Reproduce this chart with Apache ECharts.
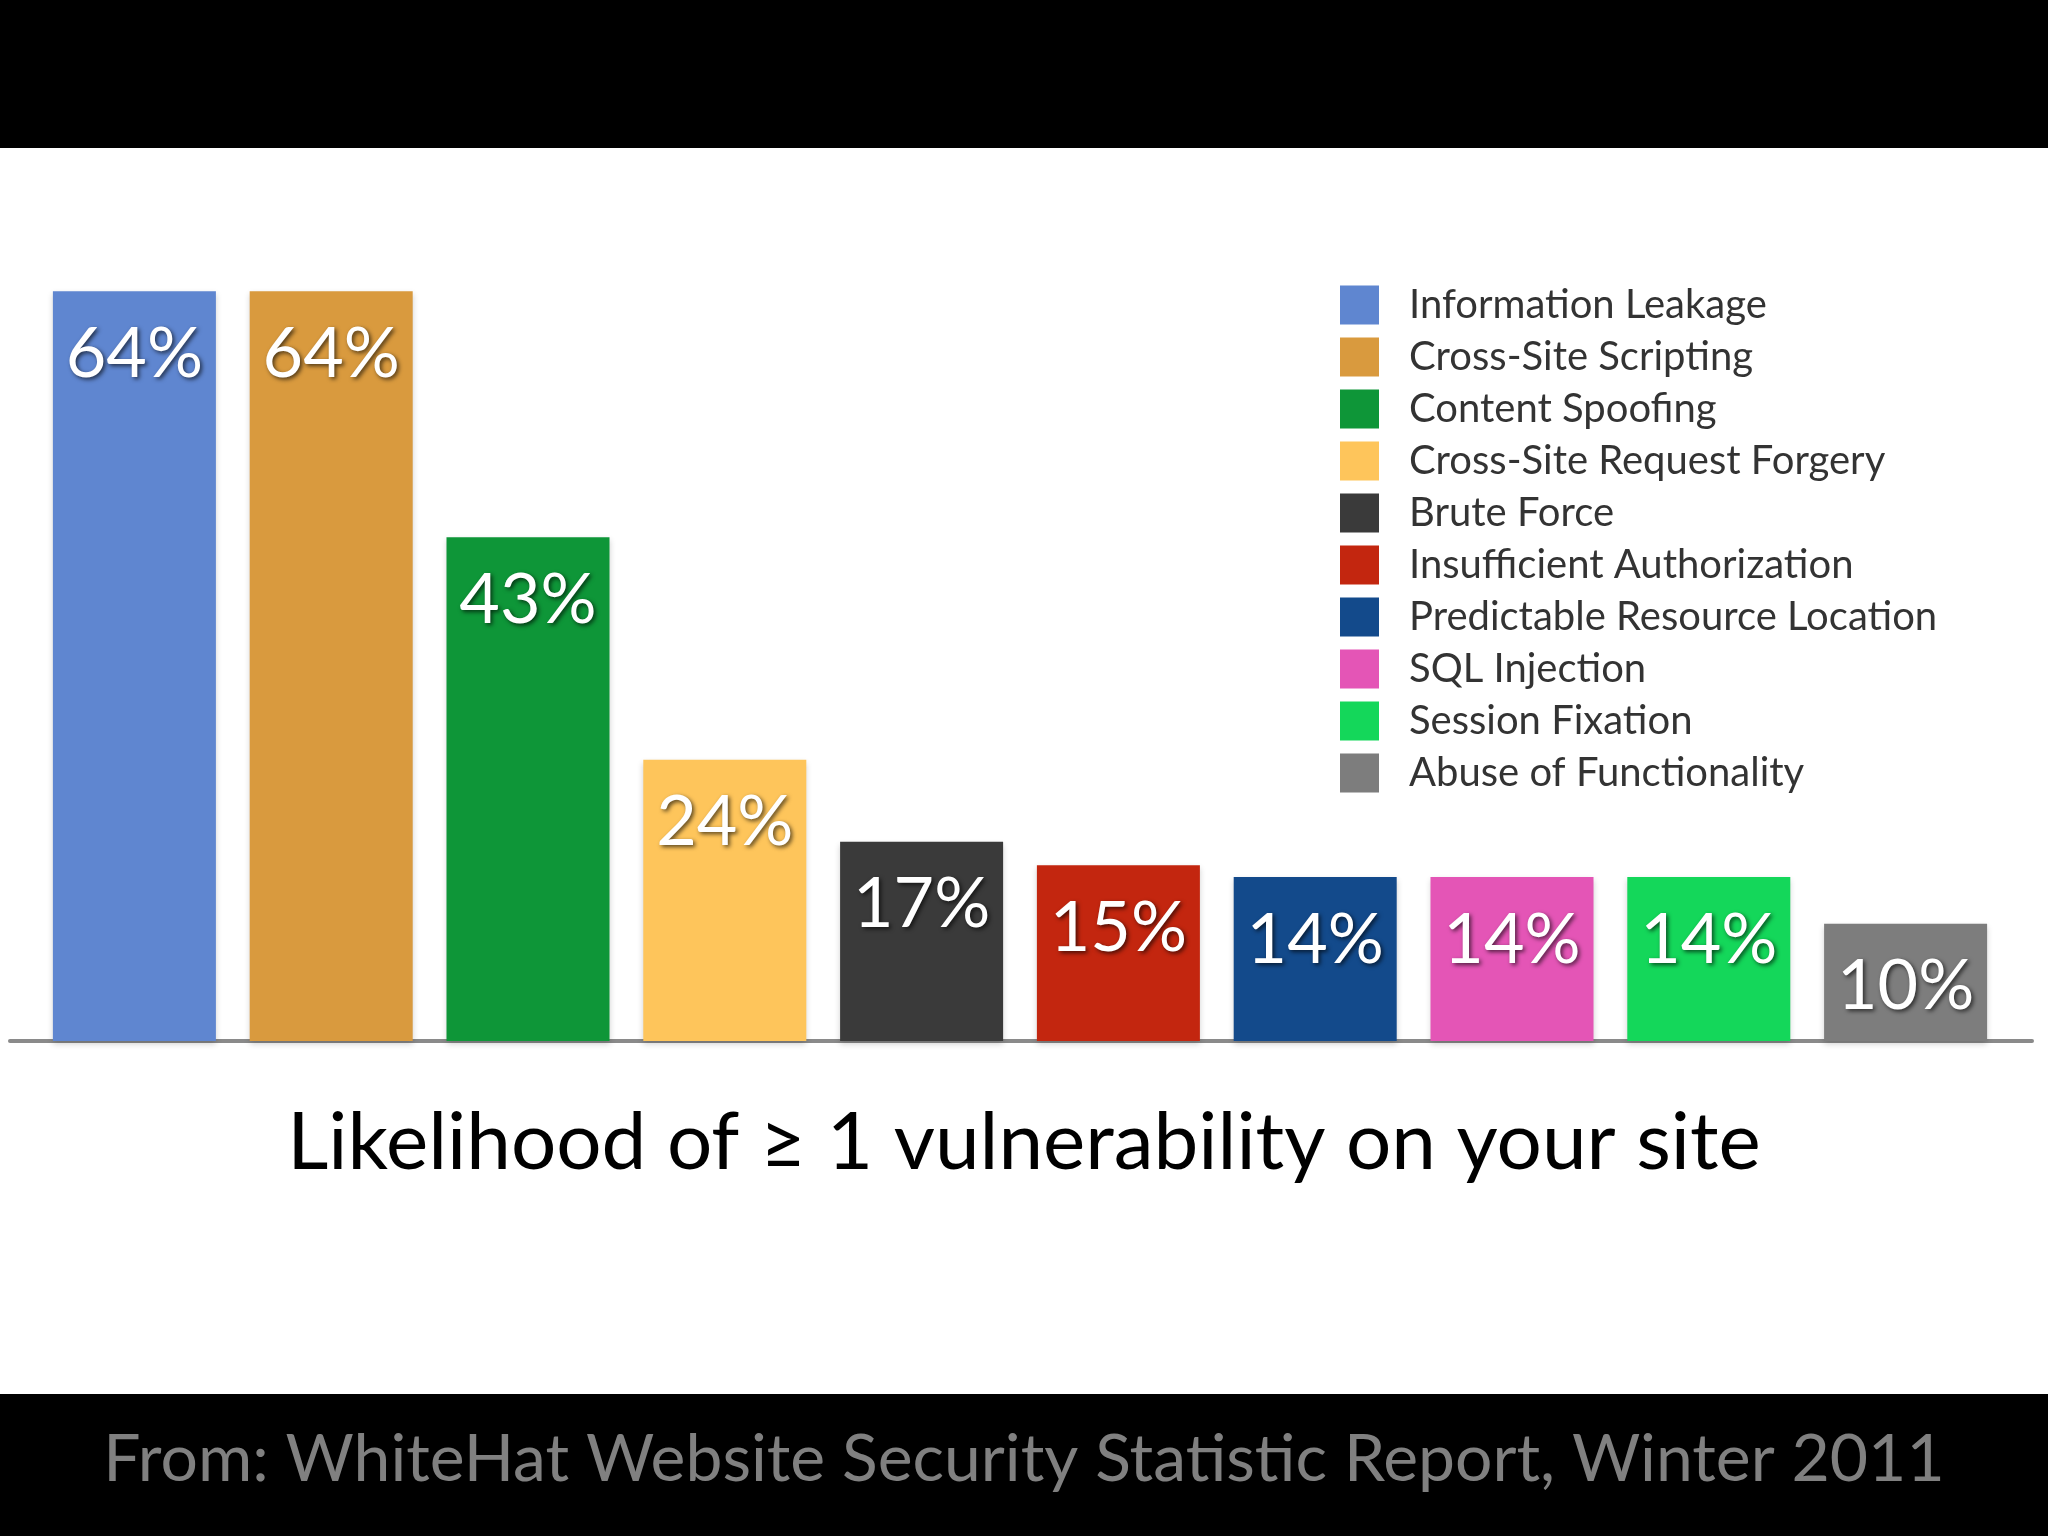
<!DOCTYPE html>
<html>
<head>
<meta charset="utf-8">
<script src="https://cdn.jsdelivr.net/npm/echarts@6/dist/echarts.min.js"></script>
<style>
html,body{margin:0;padding:0;background:#fff;}
#chart{width:2048px;height:1536px;}
</style>
</head>
<body>
<div id="chart"></div>
<script>
const categories = [
  'Information Leakage',
  'Cross-Site Scripting',
  'Content Spoofing',
  'Cross-Site Request Forgery',
  'Brute Force',
  'Insufficient Authorization',
  'Predictable Resource Location',
  'SQL Injection',
  'Session Fixation',
  'Abuse of Functionality'
];
const values = [64, 64, 43, 24, 17, 15, 14, 14, 14, 10];
const colors = ['#5F86D0', '#D99A3E', '#0E9638', '#FEC55B', '#3A3A3A', '#C3260F', '#134A8B', '#E455B6', '#14D75A', '#7D7D7D'];
const titleText = 'Likelihood of \u2265 1 vulnerability on your site';
const sourceText = 'From: WhiteHat Website Security Statistic Report, Winter 2011';

const chart = echarts.init(document.getElementById('chart'));

const series = categories.map(function (name, i) {
  return {
    name: name,
    type: 'bar',
    stack: 'all',
    xAxisIndex: 0,
    yAxisIndex: 0,
    barWidth: 163,
    itemStyle: {
      color: colors[i],
      shadowColor: 'rgba(0,0,0,0.18)',
      shadowBlur: 6,
      shadowOffsetY: 3
    },
    label: {
      show: true,
      position: 'insideTop',
      distance: 28,
      formatter: '{c}%',
      color: '#fff',
      fontFamily: 'Lato',
      fontSize: 70,
      textShadowColor: 'rgba(0,0,0,0.65)',
      textShadowBlur: 4,
      textShadowOffsetX: 2,
      textShadowOffsetY: 2
    },
    data: values.map(function (v, j) { return j === i ? v : null; })
  };
});

const option = {
  backgroundColor: '#ffffff',
  animation: false,
  color: colors,
  graphic: [
    { type: 'rect', left: 0, top: 0, shape: { width: 2048, height: 148 }, style: { fill: '#000' }, z: -1 },
    { type: 'rect', left: 0, top: 1394, shape: { width: 2048, height: 142 }, style: { fill: '#000' }, z: -1 }
  ],
  title: [
    {
      text: titleText,
      left: 'center',
      top: 1098,
      textStyle: { fontFamily: 'Lato', fontWeight: 'normal', fontSize: 80, color: '#000' }
    },
    {
      text: sourceText,
      left: 'center',
      top: 1422,
      textStyle: { fontFamily: 'Lato', fontWeight: 'normal', fontSize: 66, color: '#808080' }
    }
  ],
  legend: {
    orient: 'vertical',
    left: 1335,
    top: 280,
    icon: 'rect',
    itemWidth: 39,
    itemHeight: 39,
    itemGap: 12,
    data: categories,
    textStyle: {
      fontFamily: 'Lato',
      fontSize: 40,
      lineHeight: 39,
      color: '#333',
      padding: [0, 0, 0, 25]
    }
  },
  grid: [
    { left: 36, right: 44, top: 221, bottom: 495 },
    { left: 10, right: 16, top: 221, bottom: 495 }
  ],
  xAxis: [
    {
      type: 'category',
      gridIndex: 0,
      data: categories,
      axisLine: { show: false },
      axisTick: { show: false },
      axisLabel: { show: false }
    },
    {
      type: 'value',
      gridIndex: 1,
      min: 0,
      max: 1,
      axisLine: { show: true, lineStyle: { color: '#8a8a8a', width: 4 } },
      axisTick: { show: false },
      axisLabel: { show: false },
      splitLine: { show: false }
    }
  ],
  yAxis: [
    {
      type: 'value',
      gridIndex: 0,
      min: 0,
      max: 70,
      show: false
    },
    {
      type: 'value',
      gridIndex: 1,
      min: 0,
      max: 1,
      show: false
    }
  ],
  series: series
};

chart.setOption(option);
</script>
</body>
</html>
